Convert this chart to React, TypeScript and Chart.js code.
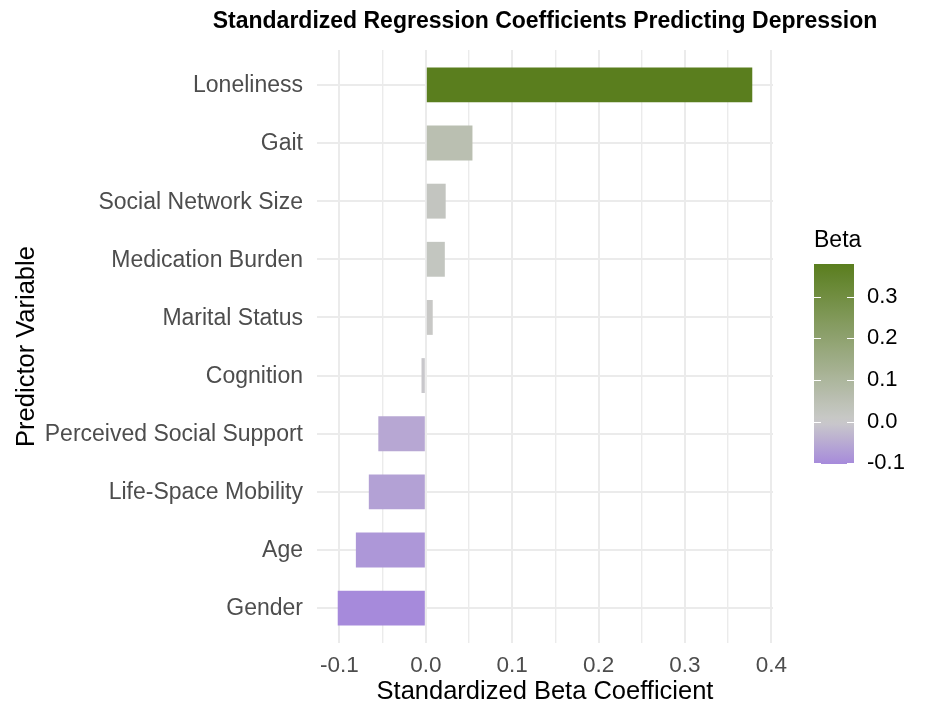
import React, { useEffect, useRef } from "react";
import { Chart, registerables } from "chart.js";

Chart.register(...registerables);

const categories = [
  "Loneliness",
  "Gait",
  "Social Network Size",
  "Medication Burden",
  "Marital Status",
  "Cognition",
  "Perceived Social Support",
  "Life-Space Mobility",
  "Age",
  "Gender",
];
const betas = [0.378, 0.054, 0.023, 0.022, 0.008, -0.005, -0.055, -0.066, -0.081, -0.102];
const xTicks = [-0.1, -0.05, 0, 0.05, 0.1, 0.15, 0.2, 0.25, 0.3, 0.35, 0.4];
const legendTicks = [-0.1, 0, 0.1, 0.2, 0.3];

const LOW: number[] = [166, 138, 219];
const MID: number[] = [202, 202, 202];
const HIGH: number[] = [90, 126, 30];
const FONT = "'Liberation Sans', Arial, Helvetica, sans-serif";

const betaMin = Math.min(...betas);
const betaMax = Math.max(...betas);

function mix(a: number[], b: number[], t: number) {
  const c = a.map((v, i) => Math.round(v + (b[i] - v) * t));
  return `rgb(${c[0]},${c[1]},${c[2]})`;
}
function colorFor(v: number) {
  if (v >= 0) return mix(MID, HIGH, v / betaMax);
  return mix(MID, LOW, v / betaMin);
}

export default function App() {
  const ref = useRef<HTMLCanvasElement | null>(null);
  useEffect(() => {
    if (!ref.current) return;
    const overlay = {
      id: "overlay",
      afterDraw(chart: any) {
        const ctx = chart.ctx as CanvasRenderingContext2D;
        const a = chart.chartArea;
        const cx = (a.left + a.right) / 2;
        ctx.save();
        ctx.fillStyle = "#000";
        ctx.textAlign = "center";
        ctx.textBaseline = "middle";
        ctx.font = `bold 23px ${FONT}`;
        ctx.fillText("Standardized Regression Coefficients Predicting Depression", cx, 22);
        ctx.font = `25.5px ${FONT}`;
        ctx.fillText("Standardized Beta Coefficient", cx, 692);
        ctx.save();
        ctx.translate(27, (a.top + a.bottom) / 2);
        ctx.rotate(-Math.PI / 2);
        ctx.fillText("Predictor Variable", 0, 0);
        ctx.restore();
        const bx = 814, bw = 40, top = 264, bottom = 464;
        const yOf = (v: number) => bottom - ((v - betaMin) / (betaMax - betaMin)) * (bottom - top);
        const g = ctx.createLinearGradient(0, bottom, 0, top);
        const steps = 30;
        for (let i = 0; i <= steps; i++) {
          const v = betaMin + ((betaMax - betaMin) * i) / steps;
          g.addColorStop(i / steps, colorFor(v));
        }
        ctx.fillStyle = g;
        ctx.fillRect(bx, top, bw, bottom - top);
        ctx.strokeStyle = "#fff";
        ctx.lineWidth = 1;
        ctx.textAlign = "left";
        ctx.font = `22px ${FONT}`;
        ctx.fillStyle = "#000";
        legendTicks.forEach((t) => {
          const y = Math.round(yOf(t)) + 0.5;
          ctx.beginPath();
          ctx.moveTo(bx, y);
          ctx.lineTo(bx + 7, y);
          ctx.moveTo(bx + bw - 7, y);
          ctx.lineTo(bx + bw, y);
          ctx.stroke();
          ctx.fillText(t.toFixed(1), 867, yOf(t));
        });
        ctx.font = `23px ${FONT}`;
        ctx.fillText("Beta", 814, 241);
        ctx.restore();
      },
    };
    const chart = new Chart(ref.current, {
      type: "bar",
      data: {
        datasets: [
          {
            data: betas.map((b, i) => ({ x: b, y: i })),
            backgroundColor: betas.map((b) => colorFor(b)),
            borderWidth: 0,
            barPercentage: 0.6,
            categoryPercentage: 1,
          },
        ],
      },
      options: {
        indexAxis: "y",
        responsive: false,
        animation: false,
        devicePixelRatio: 1,
        layout: { padding: { top: 50, right: 163, left: 0, bottom: 0 } },
        plugins: { legend: { display: false }, tooltip: { enabled: false }, title: { display: false } },
        scales: {
          x: {
            type: "linear",
            min: -0.126,
            max: 0.402,
            offset: false,
            afterBuildTicks: (s: any) => {
              s.ticks = xTicks.map((v) => ({ value: v }));
            },
            afterFit: (s: any) => {
              s.height = 79;
            },
            border: { display: false },
            grid: {
              color: "#EBEBEB",
              drawTicks: false,
              offset: false,
              lineWidth: (c: any) => {
                const v = c.tick ? c.tick.value : 0;
                return Math.abs(v * 10 - Math.round(v * 10)) < 1e-6 ? 2 : 1.4;
              },
            },
            ticks: {
              autoSkip: false,
              maxRotation: 0,
              padding: 9,
              color: "#4D4D4D",
              font: { family: FONT, size: 22.5 },
              callback: (v: any) => {
                const n = Number(v);
                return Math.abs(n * 10 - Math.round(n * 10)) < 1e-6 ? n.toFixed(1) : "";
              },
            },
          },
          y: {
            type: "linear",
            min: -0.6,
            max: 9.6,
            reverse: true,
            offset: false,
            afterBuildTicks: (s: any) => {
              s.ticks = categories.map((_, i) => ({ value: i }));
            },
            afterFit: (s: any) => {
              s.width = 317;
            },
            border: { display: false },
            grid: { color: "#EBEBEB", drawTicks: false, lineWidth: 2, offset: false },
            ticks: {
              autoSkip: false,
              padding: 14,
              labelOffset: 1,
              color: "#4D4D4D",
              font: { family: FONT, size: 23 },
              callback: (v: any) => categories[Number(v)] ?? "",
            },
          },
        },
      },
      plugins: [overlay],
    } as any);
    return () => chart.destroy();
  }, []);
  return (
    <div style={{ position: "fixed", left: 0, top: 0, width: 936, height: 722, background: "#fff" }}>
      <canvas ref={ref} width={936} height={722} style={{ width: 936, height: 722, display: "block" }} />
    </div>
  );
}
